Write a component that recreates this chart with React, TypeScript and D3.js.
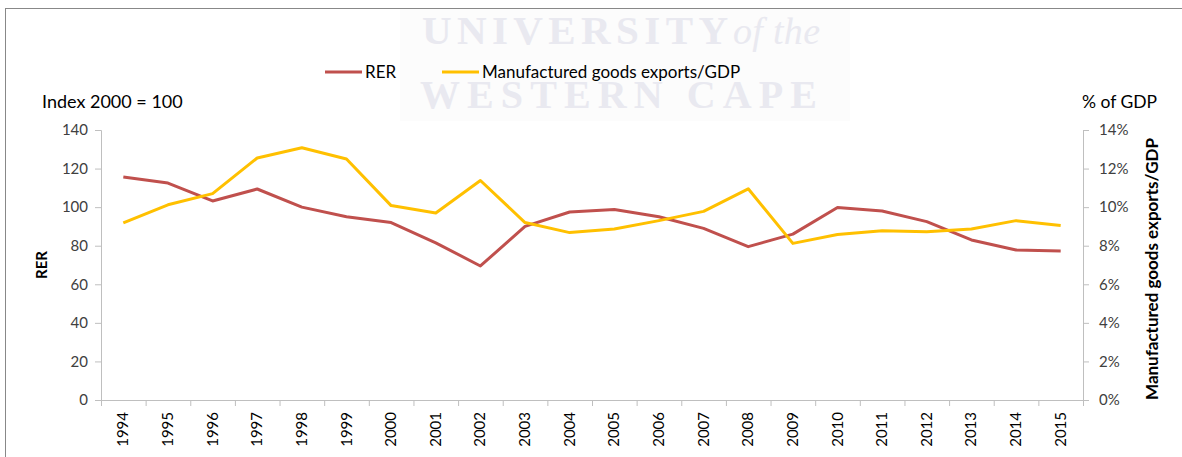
import { useRef, useEffect } from 'react';
import * as d3 from 'd3';

const years = ['1994', '1995', '1996', '1997', '1998', '1999', '2000', '2001', '2002', '2003', '2004',
  '2005', '2006', '2007', '2008', '2009', '2010', '2011', '2012', '2013', '2014', '2015'];
const rer = [115.6, 112.5, 103.2, 109.4, 100, 95, 92, 81.5, 69.5, 90, 97.5,
  98.8, 95, 89, 79.5, 86, 99.8, 98, 92.5, 83, 77.8, 77.3];
const mfgShare = [9.18, 10.12, 10.7, 12.55, 13.08, 12.5, 10.08, 9.7, 11.38, 9.2, 8.68,
  8.87, 9.3, 9.78, 10.95, 8.12, 8.58, 8.78, 8.72, 8.87, 9.3, 9.05];
const leftTicks = [0, 20, 40, 60, 80, 100, 120, 140];
const rightTicks = [0, 2, 4, 6, 8, 10, 12, 14];

const RED = '#c0504d';
const GOLD = '#ffc000';
const FONT = 'Lato, "Open Sans", sans-serif';

export default function App() {
  const svgRef = useRef<SVGSVGElement>(null);
  const width = 1182;
  const height = 457;

  useEffect(() => {
    const svg = d3.select(svgRef.current);
    svg.selectAll('*').remove();

    const left = 101, right = 1083, top = 130, bottom = 400;
    const x = d3.scaleBand().domain(years).range([left, right]);
    const yL = d3.scaleLinear().domain([0, 140]).range([bottom, top]);
    const yR = d3.scaleLinear().domain([0, 14]).range([bottom, top]);

    svg.append('rect').attr('width', width).attr('height', height).attr('fill', '#fff');

    // watermark behind the legend
    const wm = svg.append('g').attr('fill', '#e9e9f0').attr('font-family', '"Liberation Serif", "DejaVu Serif", serif');
    wm.append('rect').attr('x', 400).attr('y', 9).attr('width', 450).attr('height', 112).attr('fill', '#fcfcfc');
    wm.append('text').attr('x', 422).attr('y', 44).attr('font-size', 41).attr('font-weight', 700)
      .attr('textLength', 306).attr('lengthAdjust', 'spacing').text('UNIVERSITY');
    wm.append('text').attr('x', 733).attr('y', 44).attr('font-size', 38).attr('font-style', 'italic')
      .attr('textLength', 87).attr('lengthAdjust', 'spacing').text('of the');
    wm.append('text').attr('x', 420).attr('y', 108).attr('font-size', 40).attr('font-weight', 700)
      .attr('textLength', 397).attr('lengthAdjust', 'spacing').text('WESTERN CAPE');

    // frame
    svg.append('rect').attr('x', 5.5).attr('y', 8.5).attr('width', 1190).attr('height', 460)
      .attr('fill', 'none').attr('stroke', '#888').attr('stroke-width', 1);

    // axes
    const axisColor = '#bfbfbf';
    const gL = svg.append('g').attr('transform', `translate(${left},0)`)
      .call(d3.axisLeft(yL).tickValues(leftTicks).tickSize(6).tickPadding(7));
    const gR = svg.append('g').attr('transform', `translate(${right},0)`)
      .call(d3.axisRight(yR).tickValues(rightTicks).tickSize(6).tickPadding(10).tickFormat((d) => `${d}%`));
    const boundaries = years.map((y) => x(y) as number).concat([right]);
    const gX = svg.append('g');
    gX.append('line').attr('x1', left).attr('x2', right).attr('y1', bottom + 0.5).attr('y2', bottom + 0.5)
      .attr('stroke', axisColor);
    gX.selectAll('.xt').data(boundaries).join('line')
      .attr('x1', (d) => d + 0.5).attr('x2', (d) => d + 0.5)
      .attr('y1', bottom).attr('y2', bottom + 6).attr('stroke', axisColor);
    gX.selectAll('text').data(years).join('text')
      .attr('transform', (d) => `translate(${(x(d) as number) + x.bandwidth() / 2 + 5},${bottom + 12}) rotate(-90)`)
      .attr('text-anchor', 'end')
      .attr('font-size', 15).attr('fill', '#000').attr('font-family', FONT)
      .text((d) => d);

    [gL, gR].forEach((g) => {
      g.select('.domain').attr('stroke', axisColor);
      g.selectAll('.tick line').attr('stroke', axisColor);
      g.selectAll('.tick text').attr('font-size', 15).attr('fill', '#404040').attr('font-family', FONT);
    });

    // lines
    const idx = d3.range(years.length);
    const cx = (i: number) => (x(years[i]) as number) + x.bandwidth() / 2;
    svg.append('path')
      .attr('d', d3.line<number>().x(cx).y((i) => yL(rer[i]))(idx))
      .attr('fill', 'none').attr('stroke', RED).attr('stroke-width', 3).attr('stroke-linejoin', 'round');
    svg.append('path')
      .attr('d', d3.line<number>().x(cx).y((i) => yR(mfgShare[i]))(idx))
      .attr('fill', 'none').attr('stroke', GOLD).attr('stroke-width', 3).attr('stroke-linejoin', 'round');

    // titles
    svg.append('text').attr('x', 42).attr('y', 108).attr('font-size', 18).attr('font-family', FONT).text('Index 2000 = 100');
    svg.append('text').attr('x', 1082).attr('y', 108).attr('font-size', 17.5).attr('font-family', FONT).text('% of GDP');
    svg.append('text').attr('transform', `translate(47,${(top + bottom) / 2}) rotate(-90)`)
      .attr('text-anchor', 'middle').attr('font-size', 15).attr('font-weight', 700).attr('font-family', FONT).text('RER');
    svg.append('text').attr('transform', `translate(1158,${(top + bottom) / 2 + 4}) rotate(-90)`)
      .attr('text-anchor', 'middle').attr('font-size', 17).attr('font-weight', 700).attr('font-family', FONT)
      .text('Manufactured goods exports/GDP');

    // legend
    const legend = [
      { label: 'RER', color: RED, x0: 325 },
      { label: 'Manufactured goods exports/GDP', color: GOLD, x0: 442 },
    ];
    const lg = svg.append('g');
    legend.forEach((d) => {
      lg.append('line').attr('x1', d.x0).attr('x2', d.x0 + 37).attr('y1', 72).attr('y2', 72)
        .attr('stroke', d.color).attr('stroke-width', 3);
      lg.append('text').attr('x', d.x0 + 40).attr('y', 78).attr('font-size', 17).attr('font-family', FONT).text(d.label);
    });
  }, []);

  return <svg ref={svgRef} width={width} height={height} style={{ display: 'block', position: 'absolute', left: 0, top: 0 }} />;
}
